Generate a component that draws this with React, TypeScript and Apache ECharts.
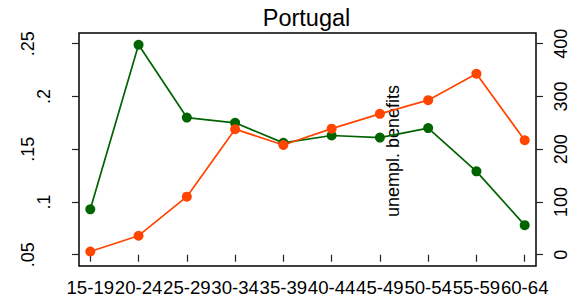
import React, { useEffect, useRef } from "react";
import * as echarts from "echarts";

const categories = ["15-19", "20-24", "25-29", "30-34", "35-39", "40-44", "45-49", "50-54", "55-59", "60-64"];
// left axis series (dark green)
const rateValues = [0.093, 0.249, 0.18, 0.175, 0.156, 0.163, 0.161, 0.17, 0.129, 0.078];
// right axis series (orange-red): unemployment benefits
const benefitValues = [6, 36, 110, 238, 208, 239, 267, 293, 343, 217];
const leftTickLabels = [".05", ".1", ".15", ".2", ".25"];
const rightTickLabels = ["0", "100", "200", "300", "400"];
const titleText = "Portugal";
const rightAxisTitle = "unempl. benefits";

const FONT = "'Liberation Sans', Arial, Helvetica, sans-serif";

export default function App() {
  const ref = useRef<HTMLDivElement>(null);
  useEffect(() => {
    if (!ref.current) return;
    const chart = echarts.init(ref.current, null, { renderer: "svg" });
    const leftIdx = (v: number) => Math.round((v - 0.05) / 0.05);
    const axisCommon = {
      type: "value",
      gridIndex: 0,
      min: 0.05,
      max: 0.25,
      interval: 0.05,
      position: "left",
      offset: 11.3,
      axisLine: { show: false },
      splitLine: { show: false },
    };
    chart.setOption({
      animation: false,
      backgroundColor: "#ffffff",
      title: {
        text: titleText,
        left: 306.5,
        top: 6,
        padding: 0,
        textAlign: "center",
        textStyle: { fontFamily: FONT, fontSize: 23.5, fontWeight: "normal", color: "#000" },
      },
      grid: [
        { left: 90.3, right: 51.3, top: 43.7, bottom: 45.3, containLabel: false },
        {
          left: 79,
          right: 40,
          top: 33,
          bottom: 34,
          show: true,
          borderColor: "#000",
          borderWidth: 1.5,
          backgroundColor: "transparent",
        },
      ],
      xAxis: [
        {
          type: "category",
          gridIndex: 0,
          data: categories,
          boundaryGap: false,
          offset: 11.3,
          axisLine: { show: false },
          axisTick: { show: true, length: 7, interval: 0, lineStyle: { color: "#222", width: 1.2 } },
          axisLabel: { interval: 0, margin: 12.3, fontFamily: FONT, fontSize: 18.6, color: "#000" },
          splitLine: { show: false },
        },
        { type: "value", gridIndex: 1, show: false, min: 0, max: 1 },
      ],
      yAxis: [
        {
          ...axisCommon,
          axisTick: { show: true, length: 7, lineStyle: { color: "#222", width: 1.2 } },
          axisLabel: {
            rotate: 90,
            margin: 42.5,
            fontFamily: FONT,
            fontSize: 18,
            color: "#000",
            formatter: (v: number) => {
              const i = leftIdx(v);
              return i % 2 === 0 ? leftTickLabels[i] : "";
            },
          },
        },
        {
          ...axisCommon,
          axisTick: { show: false },
          axisLabel: {
            rotate: 90,
            margin: 26,
            fontFamily: FONT,
            fontSize: 18,
            color: "#000",
            formatter: (v: number) => {
              const i = leftIdx(v);
              return i % 2 === 1 ? leftTickLabels[i] : "";
            },
          },
        },
        {
          type: "value",
          gridIndex: 0,
          position: "right",
          offset: 11.3,
          min: 0,
          max: 400,
          interval: 100,
          axisLine: { show: false },
          splitLine: { show: false },
          axisTick: { show: true, length: 7, lineStyle: { color: "#222", width: 1.2 } },
          axisLabel: {
            rotate: 90,
            margin: 16,
            fontFamily: FONT,
            fontSize: 18,
            color: "#000",
            formatter: (v: number) => rightTickLabels[Math.round(v / 100)],
          },
        },
        { type: "value", gridIndex: 1, show: false, min: 0, max: 1 },
      ],
      series: [
        {
          type: "line",
          xAxisIndex: 0,
          yAxisIndex: 0,
          data: rateValues,
          symbol: "circle",
          symbolSize: 10,
          lineStyle: { color: "#006400", width: 1.7 },
          itemStyle: { color: "#006400" },
        },
        {
          type: "line",
          xAxisIndex: 0,
          yAxisIndex: 2,
          data: benefitValues,
          symbol: "circle",
          symbolSize: 10,
          lineStyle: { color: "#ff4500", width: 1.7 },
          itemStyle: { color: "#ff4500" },
        },
      ],
      graphic: [
        {
          type: "text",
          x: 393,
          y: 151,
          rotation: Math.PI / 2,
          style: {
            text: rightAxisTitle,
            font: `18px ${FONT}`,
            fill: "#000",
            align: "center",
            verticalAlign: "middle",
          },
        },
      ],
    });
    return () => chart.dispose();
  }, []);
  return (
    <div
      ref={ref}
      style={{ position: "fixed", left: 0, top: 0, width: 576, height: 300, background: "#fff" }}
    />
  );
}
